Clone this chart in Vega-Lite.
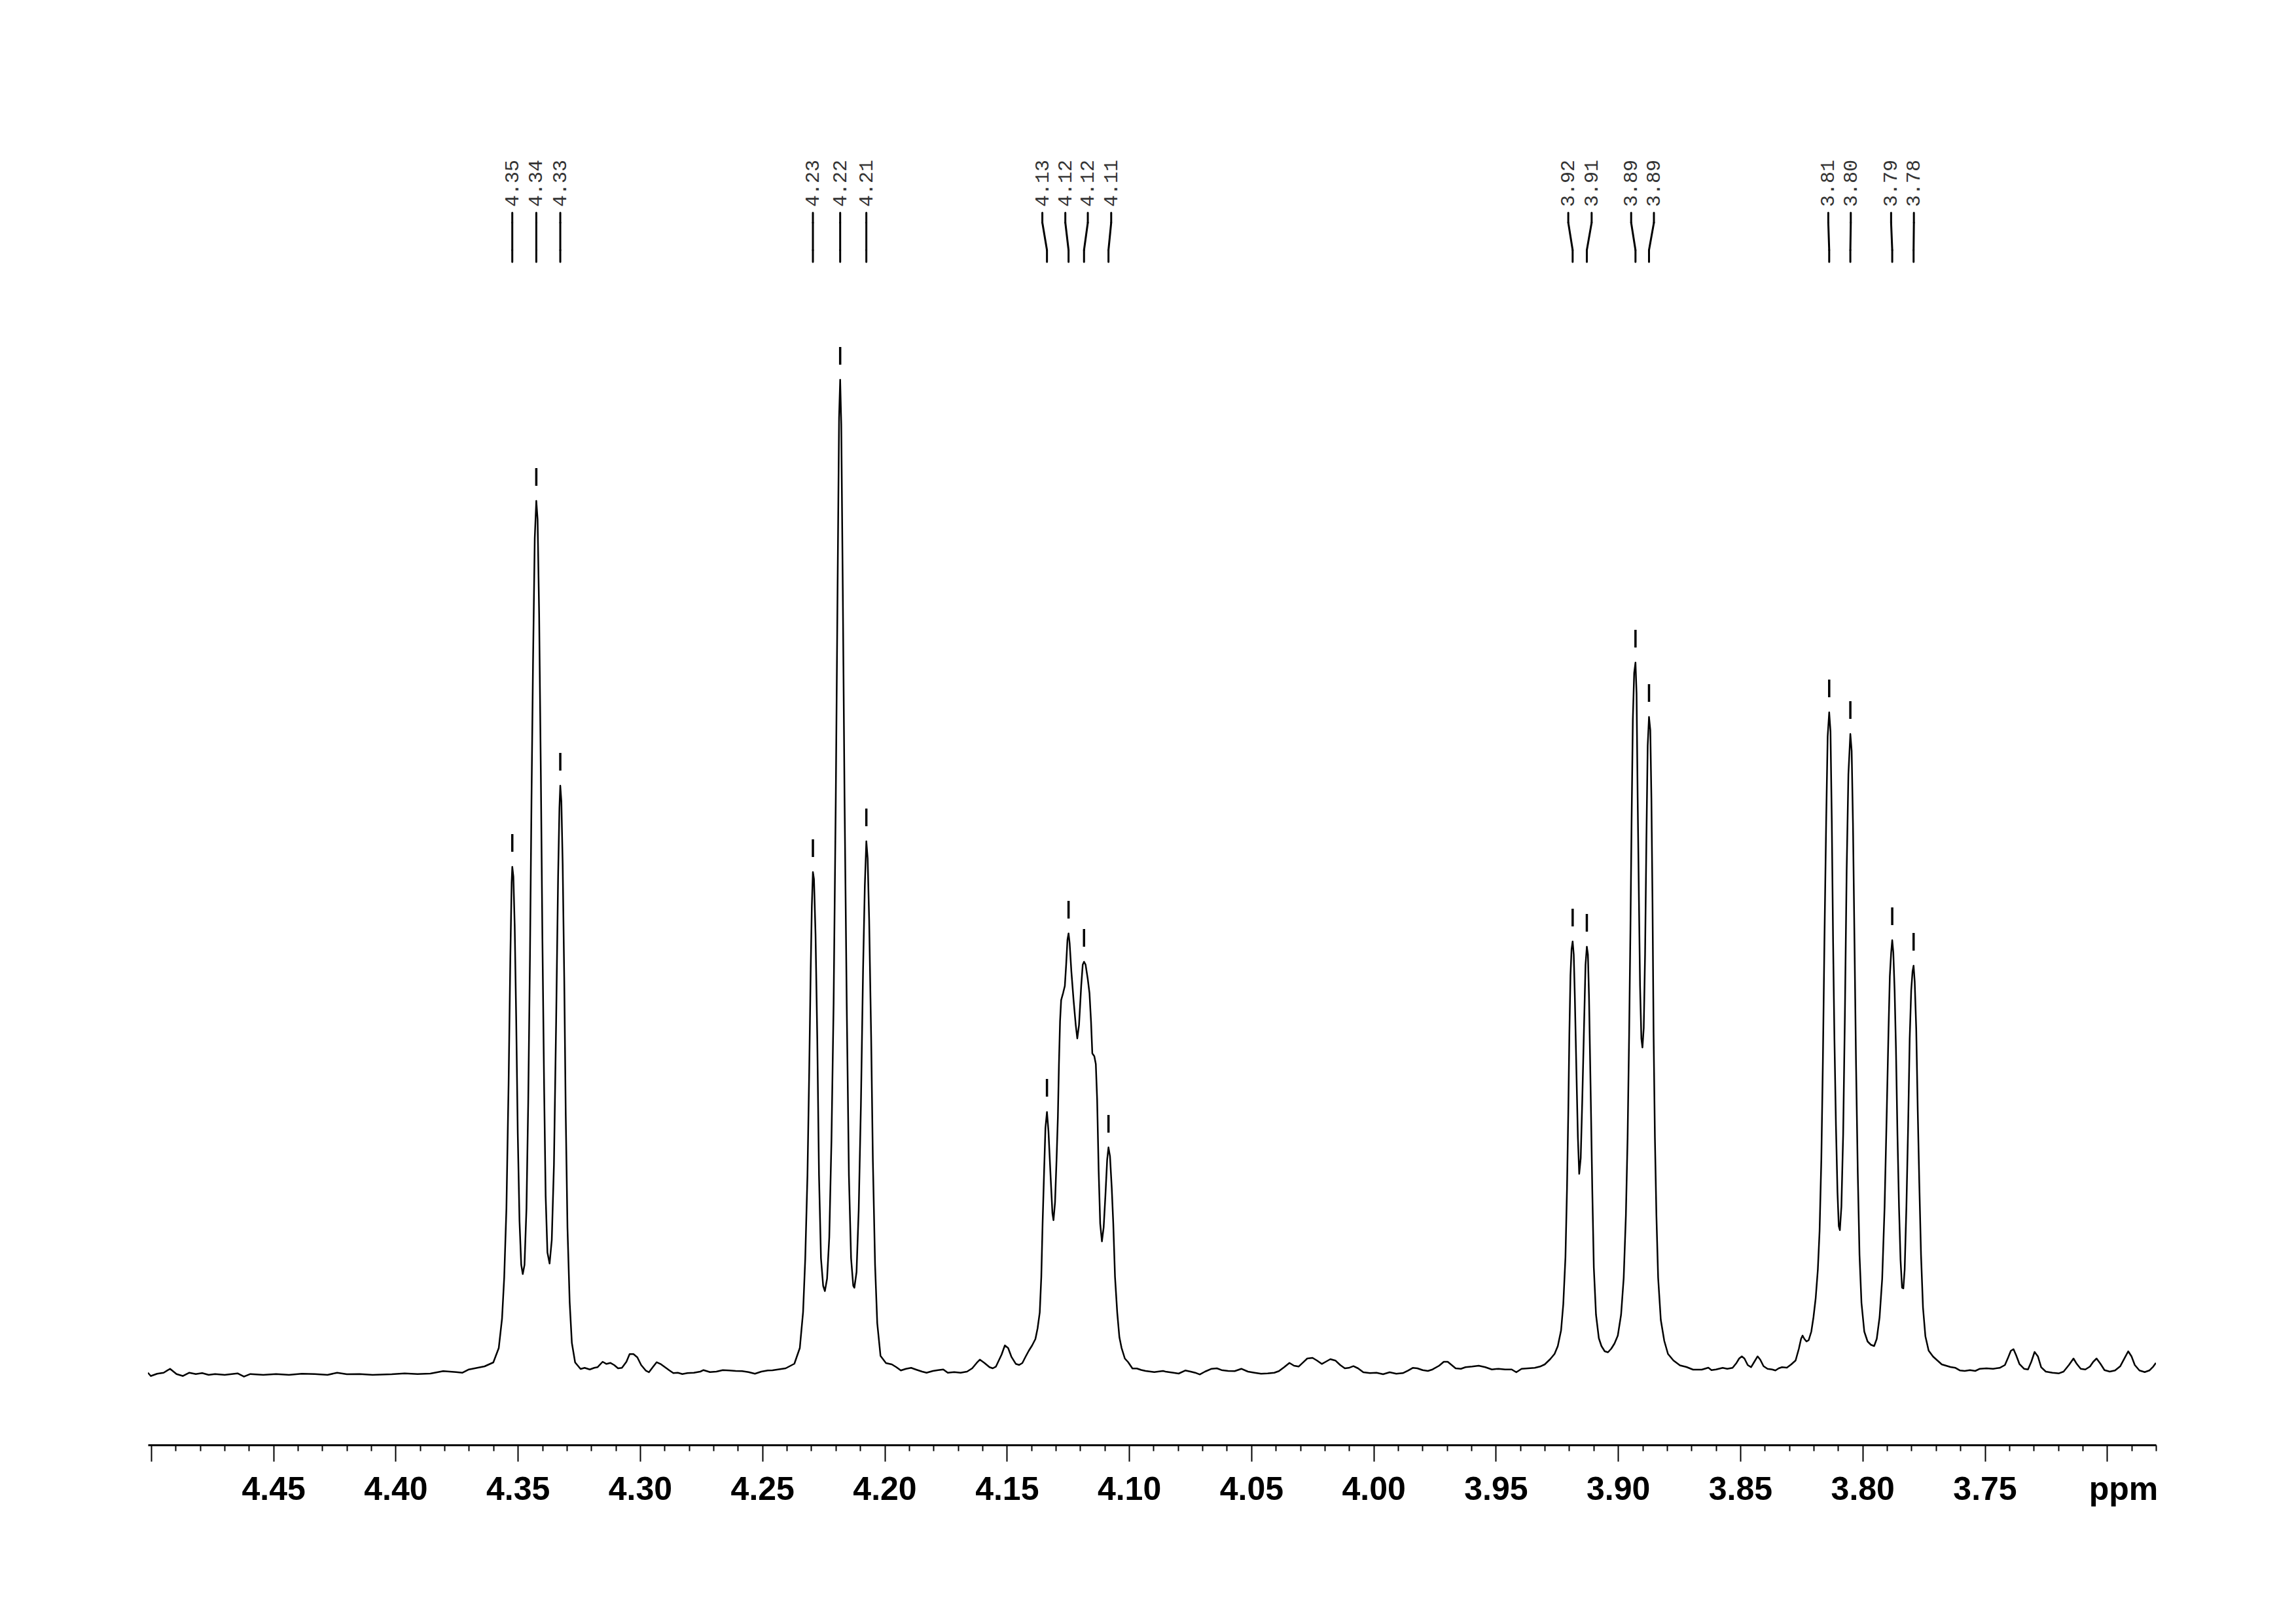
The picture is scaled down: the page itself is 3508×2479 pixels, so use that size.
{
  "$schema": "https://vega.github.io/schema/vega-lite/v6.json",
  "width": 3068,
  "height": 2007,
  "autosize": {"type": "none"},
  "padding": {"left": 226, "top": 200, "right": 214, "bottom": 272},
  "background": "white",
  "config": {"view": {"stroke": null}, "axis": {"grid": false}},
  "resolve": {"axis": {"x": "independent"}},
  "datasets": {
    "spectrum": [
      {"ppm":4.5013,"intensity":2.3},{"ppm":4.50013,"intensity":-2.7},{"ppm":4.4975,"intensity":0.7},{"ppm":4.49487,"intensity":2.3},{"ppm":4.49224,"intensity":8.3},{"ppm":4.48961,"intensity":0.3},{"ppm":4.48698,"intensity":-2.7},{"ppm":4.48435,"intensity":2.3},{"ppm":4.48172,"intensity":0.3},{"ppm":4.4791,"intensity":1.7},{"ppm":4.47647,"intensity":-1},{"ppm":4.47384,"intensity":0.3},{"ppm":4.46989,"intensity":-1},{"ppm":4.46464,"intensity":1.3},{"ppm":4.46201,"intensity":-3.7},{"ppm":4.45938,"intensity":0.3},{"ppm":4.45412,"intensity":-1},{"ppm":4.44888,"intensity":0.3},{"ppm":4.44361,"intensity":-1},{"ppm":4.43835,"intensity":0.7},{"ppm":4.43309,"intensity":0.3},{"ppm":4.42784,"intensity":-1},{"ppm":4.42389,"intensity":2.3},{"ppm":4.41995,"intensity":0},{"ppm":4.41469,"intensity":0.3},{"ppm":4.40943,"intensity":-1},{"ppm":4.40155,"intensity":0},{"ppm":4.39629,"intensity":1.3},{"ppm":4.39103,"intensity":0.3},{"ppm":4.38577,"intensity":1},{"ppm":4.38052,"intensity":4.7},{"ppm":4.37526,"intensity":3.3},{"ppm":4.37263,"intensity":2.3},{"ppm":4.37,"intensity":7.3},
      {"ppm":4.36895,"intensity":8},{"ppm":4.3636,"intensity":12},{"ppm":4.36003,"intensity":18},{"ppm":4.3578,"intensity":40},{"ppm":4.35646,"intensity":85},{"ppm":4.35557,"intensity":148},{"ppm":4.35467,"intensity":253},{"ppm":4.35378,"intensity":444},{"ppm":4.35307,"intensity":636},{"ppm":4.35253,"intensity":751},{"ppm":4.35227,"intensity":775},{"ppm":4.35182,"intensity":760},{"ppm":4.35128,"intensity":684},{"ppm":4.35066,"intensity":540},{"ppm":4.35003,"intensity":368},{"ppm":4.34932,"intensity":234},{"ppm":4.34861,"intensity":167},{"ppm":4.34798,"intensity":153},{"ppm":4.34727,"intensity":167},{"ppm":4.34647,"intensity":253},{"ppm":4.34575,"intensity":416},{"ppm":4.34504,"intensity":636},{"ppm":4.34442,"intensity":875},{"ppm":4.34379,"intensity":1086},{"ppm":4.34308,"intensity":1277},{"ppm":4.34245,"intensity":1334},{"ppm":4.34192,"intensity":1306},{"ppm":4.34129,"intensity":1162},{"ppm":4.34058,"intensity":913},{"ppm":4.33995,"intensity":665},{"ppm":4.33924,"intensity":435},{"ppm":4.33862,"intensity":272},{"ppm":4.3379,"intensity":186},{"ppm":4.33701,"intensity":169},{"ppm":4.33612,"intensity":205},{"ppm":4.33523,"intensity":320},{"ppm":4.33433,"intensity":540},{"ppm":4.33353,"intensity":760},{"ppm":4.33299,"intensity":865},{"ppm":4.33264,"intensity":899},{"ppm":4.33219,"intensity":875},{"ppm":4.33166,"intensity":779},{"ppm":4.33103,"intensity":607},{"ppm":4.33041,"intensity":397},{"ppm":4.3297,"intensity":224},{"ppm":4.3288,"intensity":110},{"ppm":4.32791,"intensity":48},{"ppm":4.32657,"intensity":18},{"ppm":4.32434,"intensity":8},
      {"ppm":4.32268,"intensity":9.7},{"ppm":4.32058,"intensity":7.3},{"ppm":4.31874,"intensity":9.7},{"ppm":4.31742,"intensity":10.7},{"ppm":4.31532,"intensity":19},{"ppm":4.31374,"intensity":15.7},{"ppm":4.31217,"intensity":17.3},{"ppm":4.31059,"intensity":14},{"ppm":4.30901,"intensity":9},{"ppm":4.30743,"intensity":9.7},{"ppm":4.30559,"intensity":19},{"ppm":4.30428,"intensity":30.7},{"ppm":4.3027,"intensity":30.7},{"ppm":4.30112,"intensity":25.7},{"ppm":4.29955,"intensity":14},{"ppm":4.29771,"intensity":5.7},{"ppm":4.29639,"intensity":3},{"ppm":4.29481,"intensity":10.7},{"ppm":4.29324,"intensity":18.3},{"ppm":4.29166,"intensity":15.7},{"ppm":4.28982,"intensity":10.7},{"ppm":4.28798,"intensity":5.7},{"ppm":4.2864,"intensity":1.7},{"ppm":4.28456,"intensity":2.3},{"ppm":4.28272,"intensity":0.3},{"ppm":4.28062,"intensity":1.7},{"ppm":4.27799,"intensity":2.3},{"ppm":4.27536,"intensity":4},{"ppm":4.27405,"intensity":6.3},{"ppm":4.27142,"intensity":3.3},{"ppm":4.26879,"intensity":4},{"ppm":4.26616,"intensity":6.3},{"ppm":4.26353,"intensity":5.7},{"ppm":4.26091,"intensity":5},{"ppm":4.25828,"intensity":4.7},{"ppm":4.25565,"intensity":3.3},{"ppm":4.25302,"intensity":0.7},{"ppm":4.25039,"intensity":4},{"ppm":4.24776,"intensity":5.7},
      {"ppm":4.24582,"intensity":6},{"ppm":4.24047,"intensity":9},{"ppm":4.2369,"intensity":16},{"ppm":4.23467,"intensity":40},{"ppm":4.23333,"intensity":95},{"ppm":4.23244,"intensity":177},{"ppm":4.23154,"intensity":304},{"ppm":4.23083,"intensity":462},{"ppm":4.23021,"intensity":619},{"ppm":4.22976,"intensity":714},{"ppm":4.22931,"intensity":767},{"ppm":4.22887,"intensity":756},{"ppm":4.22824,"intensity":672},{"ppm":4.22753,"intensity":514},{"ppm":4.22682,"intensity":304},{"ppm":4.22601,"intensity":177},{"ppm":4.22512,"intensity":135},{"ppm":4.22441,"intensity":127},{"ppm":4.22352,"intensity":146},{"ppm":4.22262,"intensity":209},{"ppm":4.22173,"intensity":356},{"ppm":4.22084,"intensity":567},{"ppm":4.21995,"intensity":882},{"ppm":4.21923,"intensity":1198},{"ppm":4.21861,"intensity":1461},{"ppm":4.21816,"intensity":1519},{"ppm":4.21772,"intensity":1451},{"ppm":4.21709,"intensity":1198},{"ppm":4.21638,"intensity":882},{"ppm":4.21549,"intensity":567},{"ppm":4.21459,"intensity":304},{"ppm":4.2137,"intensity":177},{"ppm":4.21281,"intensity":135},{"ppm":4.21236,"intensity":132},{"ppm":4.21147,"intensity":156},{"ppm":4.21058,"intensity":251},{"ppm":4.20969,"intensity":409},{"ppm":4.20879,"intensity":619},{"ppm":4.20808,"intensity":746},{"ppm":4.20746,"intensity":814},{"ppm":4.20692,"intensity":788},{"ppm":4.2063,"intensity":693},{"ppm":4.20549,"intensity":514},{"ppm":4.20478,"intensity":325},{"ppm":4.20389,"intensity":167},{"ppm":4.203,"intensity":78},{"ppm":4.20166,"intensity":28},{"ppm":4.19943,"intensity":17},{"ppm":4.19702,"intensity":15},{"ppm":4.19518,"intensity":10.7},{"ppm":4.19334,"intensity":5.7},{"ppm":4.19124,"intensity":8.3},{"ppm":4.18913,"intensity":9.7},{"ppm":4.18729,"intensity":7.3},{"ppm":4.18466,"intensity":4},{"ppm":4.18282,"intensity":2.3},{"ppm":4.1802,"intensity":5},{"ppm":4.1781,"intensity":6.3},{"ppm":4.17599,"intensity":7.3},{"ppm":4.17415,"intensity":2.3},{"ppm":4.17153,"intensity":3.3},{"ppm":4.1689,"intensity":2.3},{"ppm":4.16627,"intensity":4},{"ppm":4.16416,"intensity":9},{"ppm":4.16232,"intensity":17.3},{"ppm":4.16101,"intensity":22.3},{"ppm":4.15917,"intensity":17.3},{"ppm":4.15707,"intensity":10.7},{"ppm":4.15575,"intensity":9},{"ppm":4.15444,"intensity":11.7},
      {"ppm":4.15214,"intensity":30},{"ppm":4.1508,"intensity":44},{"ppm":4.14946,"intensity":40},{"ppm":4.14813,"intensity":26.7},{"ppm":4.14634,"intensity":15.8},{"ppm":4.145,"intensity":14.2},{"ppm":4.14366,"intensity":17},{"ppm":4.14233,"intensity":26.7},{"ppm":4.14099,"intensity":36},{"ppm":4.13965,"intensity":44},{"ppm":4.13831,"intensity":53.8},{"ppm":4.13742,"intensity":70},{"ppm":4.13653,"intensity":94.4},{"ppm":4.1359,"intensity":148.6},{"ppm":4.13537,"intensity":230},{"ppm":4.13474,"intensity":311},{"ppm":4.13421,"intensity":376},{"ppm":4.13358,"intensity":400.6},{"ppm":4.13296,"intensity":370.8},{"ppm":4.13207,"intensity":300.4},{"ppm":4.13135,"intensity":246},{"ppm":4.13091,"intensity":235.3},{"ppm":4.13028,"intensity":262.4},{"ppm":4.12966,"intensity":327.5},{"ppm":4.12912,"intensity":392.5},{"ppm":4.12868,"intensity":473.8},{"ppm":4.12823,"intensity":539},{"ppm":4.12778,"intensity":571.4},{"ppm":4.12698,"intensity":582.2},{"ppm":4.12627,"intensity":593},{"ppm":4.12573,"intensity":625.6},{"ppm":4.1252,"intensity":663.5},{"ppm":4.12475,"intensity":673.3},{"ppm":4.1243,"intensity":658},{"ppm":4.12359,"intensity":614.7},{"ppm":4.1227,"intensity":571.4},{"ppm":4.12181,"intensity":533.4},{"ppm":4.12118,"intensity":512.8},{"ppm":4.12047,"intensity":533.4},{"ppm":4.11958,"intensity":593},{"ppm":4.11895,"intensity":625.6},{"ppm":4.11842,"intensity":630},{"ppm":4.11779,"intensity":625.6},{"ppm":4.1169,"intensity":603.9},{"ppm":4.11619,"intensity":582.2},{"ppm":4.11556,"intensity":539},{"ppm":4.11503,"intensity":490},{"ppm":4.11422,"intensity":485.7},{"ppm":4.1136,"intensity":473.8},{"ppm":4.11306,"intensity":419.6},{"ppm":4.11244,"intensity":311},{"ppm":4.11181,"intensity":230},{"ppm":4.1111,"intensity":202.8},{"ppm":4.11039,"intensity":224.5},{"ppm":4.10967,"intensity":273.3},{"ppm":4.10896,"intensity":327.5},{"ppm":4.10842,"intensity":346.4},{"ppm":4.1078,"intensity":332.9},{"ppm":4.10708,"intensity":284.1},{"ppm":4.10646,"intensity":230},{"ppm":4.10575,"intensity":148.6},{"ppm":4.10485,"intensity":94.4},{"ppm":4.10396,"intensity":56.5},{"ppm":4.10307,"intensity":40.2},{"ppm":4.10173,"intensity":24},{"ppm":4.10039,"intensity":18.5},{"ppm":4.09861,"intensity":8.8},{"ppm":4.09682,"intensity":8.8},{"ppm":4.09504,"intensity":6.5},{"ppm":4.09325,"intensity":5},{"ppm":4.08969,"intensity":3.3},{"ppm":4.08612,"intensity":5},
      {"ppm":4.08511,"intensity":4},{"ppm":4.08376,"intensity":3.3},{"ppm":4.08187,"intensity":2.3},{"ppm":4.07971,"intensity":1},{"ppm":4.07702,"intensity":5.7},{"ppm":4.07486,"intensity":4},{"ppm":4.07297,"intensity":2.3},{"ppm":4.07108,"intensity":-0.3},{"ppm":4.06893,"intensity":4},{"ppm":4.06623,"intensity":8.3},{"ppm":4.06407,"intensity":9},{"ppm":4.06218,"intensity":6.3},{"ppm":4.05948,"intensity":5},{"ppm":4.05679,"intensity":4.7},{"ppm":4.05409,"intensity":8.3},{"ppm":4.05139,"intensity":4},{"ppm":4.0487,"intensity":2.3},{"ppm":4.046,"intensity":0.7},{"ppm":4.0433,"intensity":1.3},{"ppm":4.04061,"intensity":2.3},{"ppm":4.03872,"intensity":4.7},{"ppm":4.03656,"intensity":10.7},{"ppm":4.03441,"intensity":17.3},{"ppm":4.03253,"intensity":13},{"ppm":4.03065,"intensity":11.7},{"ppm":4.02901,"intensity":17.3},{"ppm":4.02712,"intensity":24},{"ppm":4.02496,"intensity":25},{"ppm":4.02308,"intensity":20.7},{"ppm":4.02118,"intensity":15.7},{"ppm":4.01957,"intensity":19},{"ppm":4.01768,"intensity":23},{"ppm":4.01552,"intensity":20.7},{"ppm":4.01363,"intensity":14},{"ppm":4.01175,"intensity":9},{"ppm":4.01013,"intensity":9.7},{"ppm":4.00824,"intensity":12.3},{"ppm":4.00635,"intensity":9},{"ppm":4.00419,"intensity":3},{"ppm":4.0015,"intensity":1.7},{"ppm":3.9988,"intensity":2.3},{"ppm":3.9961,"intensity":0},{"ppm":3.99341,"intensity":3},{"ppm":3.99071,"intensity":0.7},{"ppm":3.98801,"intensity":1.7},{"ppm":3.98585,"intensity":5.7},{"ppm":3.98397,"intensity":9.7},{"ppm":3.98208,"intensity":9},{"ppm":3.97992,"intensity":6.3},{"ppm":3.97777,"intensity":5},{"ppm":3.97587,"intensity":7.3},{"ppm":3.97318,"intensity":13},{"ppm":3.97129,"intensity":19},{"ppm":3.96967,"intensity":19},{"ppm":3.96805,"intensity":14},{"ppm":3.96644,"intensity":9},{"ppm":3.96428,"intensity":8.3},{"ppm":3.96239,"intensity":10.7},{"ppm":3.95969,"intensity":11.7},{"ppm":3.957,"intensity":13},{"ppm":3.9543,"intensity":10.7},{"ppm":3.9516,"intensity":7.3},{"ppm":3.9489,"intensity":8.3},{"ppm":3.94621,"intensity":7.3},{"ppm":3.94351,"intensity":7.3},{"ppm":3.94162,"intensity":3},{"ppm":3.93946,"intensity":8.3},{"ppm":3.93677,"intensity":9},{"ppm":3.93407,"intensity":9.7},{"ppm":3.93191,"intensity":11.7},
      {"ppm":3.92999,"intensity":15},{"ppm":3.92776,"intensity":23},{"ppm":3.92597,"intensity":31},{"ppm":3.92464,"intensity":43},{"ppm":3.9233,"intensity":67},{"ppm":3.9224,"intensity":107},{"ppm":3.92151,"intensity":179},{"ppm":3.92089,"intensity":282},{"ppm":3.92035,"intensity":402},{"ppm":3.91991,"intensity":521},{"ppm":3.91946,"intensity":609},{"ppm":3.91902,"intensity":649},{"ppm":3.91857,"intensity":661},{"ppm":3.91812,"intensity":641},{"ppm":3.91768,"intensity":577},{"ppm":3.91705,"intensity":466},{"ppm":3.91643,"intensity":362},{"ppm":3.91589,"intensity":306},{"ppm":3.91527,"intensity":330},{"ppm":3.91464,"intensity":418},{"ppm":3.91393,"intensity":529},{"ppm":3.91331,"intensity":625},{"ppm":3.91277,"intensity":653},{"ppm":3.91232,"intensity":641},{"ppm":3.91188,"intensity":577},{"ppm":3.91125,"intensity":442},{"ppm":3.91054,"intensity":282},{"ppm":3.90991,"intensity":163},{"ppm":3.90902,"intensity":91},{"ppm":3.90786,"intensity":55},{"ppm":3.90679,"intensity":43},{"ppm":3.90545,"intensity":35},{"ppm":3.90412,"intensity":33.5},{"ppm":3.90278,"intensity":39},{"ppm":3.90144,"intensity":47},{"ppm":3.9001,"intensity":59},{"ppm":3.89876,"intensity":91},{"ppm":3.89769,"intensity":147},{"ppm":3.8968,"intensity":242},{"ppm":3.89609,"intensity":362},{"ppm":3.89546,"intensity":521},{"ppm":3.89493,"intensity":681},{"ppm":3.89448,"intensity":840},{"ppm":3.89395,"intensity":1000},{"ppm":3.89341,"intensity":1071},{"ppm":3.89287,"intensity":1087},{"ppm":3.89243,"intensity":1040},{"ppm":3.89198,"intensity":880},{"ppm":3.89145,"intensity":721},{"ppm":3.891,"intensity":593},{"ppm":3.89047,"intensity":513},{"ppm":3.89002,"intensity":499},{"ppm":3.88949,"intensity":529},{"ppm":3.88895,"intensity":641},{"ppm":3.88841,"intensity":816},{"ppm":3.88788,"intensity":960},{"ppm":3.88734,"intensity":1004},{"ppm":3.88681,"intensity":984},{"ppm":3.88636,"intensity":880},{"ppm":3.88591,"intensity":721},{"ppm":3.88547,"intensity":521},{"ppm":3.88493,"intensity":362},{"ppm":3.88431,"intensity":242},{"ppm":3.8836,"intensity":147},{"ppm":3.88252,"intensity":83},{"ppm":3.8811,"intensity":51},{"ppm":3.87958,"intensity":31},{"ppm":3.87735,"intensity":21},{"ppm":3.87467,"intensity":13.5},{"ppm":3.872,"intensity":11},{"ppm":3.86932,"intensity":7},{"ppm":3.86575,"intensity":7},{"ppm":3.86307,"intensity":10},
      {"ppm":3.86179,"intensity":6.3},{"ppm":3.8599,"intensity":7.3},{"ppm":3.8572,"intensity":9.7},{"ppm":3.85532,"intensity":8.3},{"ppm":3.85316,"intensity":9.7},{"ppm":3.85154,"intensity":17.3},{"ppm":3.85046,"intensity":24},{"ppm":3.84938,"intensity":27.3},{"ppm":3.84831,"intensity":24},{"ppm":3.84696,"intensity":14},{"ppm":3.84561,"intensity":10.7},{"ppm":3.84426,"intensity":19},{"ppm":3.84291,"intensity":27.3},{"ppm":3.84184,"intensity":22.3},{"ppm":3.84049,"intensity":12.3},{"ppm":3.83887,"intensity":8.3},{"ppm":3.83698,"intensity":7.3},{"ppm":3.83564,"intensity":5.7},{"ppm":3.83429,"intensity":9},{"ppm":3.83294,"intensity":10.7},
      {"ppm":3.83095,"intensity":10},{"ppm":3.82917,"intensity":15},{"ppm":3.82738,"intensity":21},{"ppm":3.82604,"intensity":39},{"ppm":3.82515,"intensity":54},{"ppm":3.82453,"intensity":59},{"ppm":3.82381,"intensity":54},{"ppm":3.82292,"intensity":50},{"ppm":3.82203,"intensity":52},{"ppm":3.82096,"intensity":65},{"ppm":3.82007,"intensity":87},{"ppm":3.81917,"intensity":116},{"ppm":3.81828,"intensity":160},{"ppm":3.81757,"intensity":219},{"ppm":3.81685,"intensity":329},{"ppm":3.81623,"intensity":476},{"ppm":3.8156,"intensity":659},{"ppm":3.81489,"intensity":842},{"ppm":3.81427,"intensity":974},{"ppm":3.81364,"intensity":1011},{"ppm":3.81311,"intensity":982},{"ppm":3.81257,"intensity":842},{"ppm":3.81204,"intensity":659},{"ppm":3.8115,"intensity":512},{"ppm":3.81088,"intensity":380},{"ppm":3.81025,"intensity":278},{"ppm":3.80972,"intensity":226},{"ppm":3.80927,"intensity":220},{"ppm":3.80865,"intensity":256},{"ppm":3.80793,"intensity":366},{"ppm":3.80722,"intensity":549},{"ppm":3.8065,"intensity":769},{"ppm":3.80579,"intensity":916},{"ppm":3.80499,"intensity":978},{"ppm":3.80445,"intensity":952},{"ppm":3.80392,"intensity":842},{"ppm":3.80329,"intensity":659},{"ppm":3.80267,"intensity":476},{"ppm":3.80195,"intensity":307},{"ppm":3.80124,"intensity":182},{"ppm":3.80044,"intensity":109},{"ppm":3.79928,"intensity":65},{"ppm":3.79794,"intensity":50},{"ppm":3.7966,"intensity":45},{"ppm":3.79526,"intensity":43},{"ppm":3.79419,"intensity":54},{"ppm":3.79303,"intensity":87},{"ppm":3.79196,"intensity":146},{"ppm":3.79098,"intensity":256},{"ppm":3.79009,"intensity":402},{"ppm":3.78937,"intensity":527},{"ppm":3.78884,"intensity":608},{"ppm":3.7883,"intensity":644},{"ppm":3.78786,"intensity":663},{"ppm":3.78741,"intensity":644},{"ppm":3.78688,"intensity":586},{"ppm":3.78634,"intensity":498},{"ppm":3.78572,"intensity":366},{"ppm":3.78509,"intensity":256},{"ppm":3.78447,"intensity":175},{"ppm":3.78384,"intensity":132},{"ppm":3.78331,"intensity":131},{"ppm":3.78277,"intensity":160},{"ppm":3.78206,"intensity":256},{"ppm":3.78135,"intensity":380},{"ppm":3.78072,"intensity":512},{"ppm":3.7801,"intensity":586},{"ppm":3.77956,"intensity":615},{"ppm":3.77912,"intensity":624},{"ppm":3.77867,"intensity":600},{"ppm":3.77804,"intensity":527},{"ppm":3.77742,"intensity":402},{"ppm":3.77679,"intensity":292},{"ppm":3.77608,"intensity":182},{"ppm":3.77528,"intensity":102},{"ppm":3.7743,"intensity":58},{"ppm":3.77296,"intensity":36},{"ppm":3.77117,"intensity":27},{"ppm":3.76939,"intensity":21},{"ppm":3.7676,"intensity":15},{"ppm":3.76582,"intensity":13},{"ppm":3.76403,"intensity":11},
      {"ppm":3.76199,"intensity":9.7},{"ppm":3.76011,"intensity":5.7},{"ppm":3.75822,"intensity":5},{"ppm":3.75606,"intensity":6.3},{"ppm":3.7539,"intensity":5},{"ppm":3.75201,"intensity":8.3},{"ppm":3.74932,"intensity":9},{"ppm":3.74662,"intensity":8.3},{"ppm":3.74392,"intensity":9.7},{"ppm":3.74177,"intensity":14},{"ppm":3.74042,"intensity":25.7},{"ppm":3.73934,"intensity":35.7},{"ppm":3.73826,"intensity":38.3},{"ppm":3.73718,"intensity":29},{"ppm":3.73584,"intensity":15.7},{"ppm":3.73395,"intensity":8.3},{"ppm":3.73233,"intensity":7.3},{"ppm":3.73098,"intensity":19},{"ppm":3.72963,"intensity":34},{"ppm":3.72828,"intensity":27.3},{"ppm":3.72694,"intensity":10.7},{"ppm":3.72505,"intensity":4},{"ppm":3.72235,"intensity":2.3},{"ppm":3.71965,"intensity":1.3},{"ppm":3.71777,"intensity":4},{"ppm":3.71561,"intensity":14},{"ppm":3.71372,"intensity":24},{"ppm":3.71237,"intensity":15.7},{"ppm":3.71075,"intensity":8.3},{"ppm":3.70887,"intensity":7.3},{"ppm":3.70698,"intensity":11.7},{"ppm":3.70563,"intensity":19},{"ppm":3.70428,"intensity":24},{"ppm":3.70266,"intensity":15.7},{"ppm":3.70104,"intensity":6.3},{"ppm":3.69889,"intensity":4},{"ppm":3.69673,"intensity":5.7},{"ppm":3.69457,"intensity":12.3},{"ppm":3.69268,"intensity":25.7},{"ppm":3.69134,"intensity":35},{"ppm":3.68999,"intensity":27.3},{"ppm":3.68864,"intensity":14},{"ppm":3.68675,"intensity":5.7},{"ppm":3.68459,"intensity":3.3},{"ppm":3.6827,"intensity":5.7},{"ppm":3.68109,"intensity":11.7},{"ppm":3.68001,"intensity":17.3}
    ],
    "peaks": [
      {"label":"4.35","ppm":4.35227,"labelPpm":4.35227,"height":775},
      {"label":"4.34","ppm":4.34245,"labelPpm":4.34245,"height":1334},
      {"label":"4.33","ppm":4.33264,"labelPpm":4.33264,"height":899},
      {"label":"4.23","ppm":4.22931,"labelPpm":4.22931,"height":767},
      {"label":"4.22","ppm":4.21816,"labelPpm":4.21816,"height":1519},
      {"label":"4.21","ppm":4.20746,"labelPpm":4.20746,"height":814},
      {"label":"4.13","ppm":4.13358,"labelPpm":4.13547,"height":401},
      {"label":"4.12","ppm":4.12475,"labelPpm":4.12607,"height":673},
      {"label":"4.12","ppm":4.11842,"labelPpm":4.11687,"height":630},
      {"label":"4.11","ppm":4.10842,"labelPpm":4.10731,"height":346},
      {"label":"3.92","ppm":3.91857,"labelPpm":3.92036,"height":661},
      {"label":"3.91","ppm":3.91277,"labelPpm":3.9108,"height":653},
      {"label":"3.89","ppm":3.89287,"labelPpm":3.89464,"height":1087},
      {"label":"3.89","ppm":3.88734,"labelPpm":3.88533,"height":1004},
      {"label":"3.81","ppm":3.81364,"labelPpm":3.81401,"height":1011},
      {"label":"3.80","ppm":3.80499,"labelPpm":3.80481,"height":978},
      {"label":"3.79","ppm":3.78786,"labelPpm":3.78832,"height":663},
      {"label":"3.78","ppm":3.77912,"labelPpm":3.779,"height":624}
    ]
  },
  "layer": [
    {
      "data": {"name": "spectrum"},
      "mark": {"type": "line", "color": "black", "strokeWidth": 2.5, "clip": true, "strokeJoin": "round"},
      "encoding": {
        "x": {
          "field": "ppm", "type": "quantitative",
          "scale": {"domain": [3.68, 4.5013], "reverse": true, "nice": false, "zero": false},
          "axis": {
            "orient": "bottom",
            "values": [4.5,4.45,4.4,4.35,4.3,4.25,4.2,4.15,4.1,4.05,4,3.95,3.9,3.85,3.8,3.75,3.7],
            "labelExpr": "datum.value < 4.49 && datum.value > 3.71 ? format(datum.value, '.2f') : ''",
            "tickSize": 25,
            "tickWidth": 2,
            "tickColor": "black",
            "domainColor": "black",
            "domainWidth": 3,
            "labelFont": "Liberation Sans",
            "labelFontSize": 50,
            "labelFontWeight": "bold",
            "labelColor": "black",
            "labelBaseline": "alphabetic",
            "labelPadding": 58,
            "labelOverlap": false,
            "labelFlush": false,
            "title": "ppm",
            "titleFont": "Liberation Sans",
            "titleFontSize": 50,
            "titleFontWeight": "bold",
            "titleColor": "black",
            "titleX": 3018,
            "titleY": 83,
            "titleAlign": "center",
            "titleBaseline": "alphabetic"
          }
        },
        "y": {"field": "intensity", "type": "quantitative", "scale": {"domain": [-108, 1899], "nice": false, "zero": false}, "axis": null}
      }
    },
    {
      "data": {"name": "peaks"},
      "mark": {"type": "rule", "color": "black", "strokeWidth": 3.5, "yOffset": -23, "y2Offset": -50},
      "encoding": {
        "x": {
          "field": "ppm", "type": "quantitative",
          "scale": {"domain": [3.68, 4.5013], "reverse": true, "nice": false, "zero": false},
          "axis": {
            "orient": "bottom",
            "values": [4.49,4.48,4.47,4.46,4.44,4.43,4.42,4.41,4.39,4.38,4.37,4.36,4.34,4.33,4.32,4.31,4.29,4.28,4.27,4.26,4.24,4.23,4.22,4.21,4.19,4.18,4.17,4.16,4.14,4.13,4.12,4.11,4.09,4.08,4.07,4.06,4.04,4.03,4.02,4.01,3.99,3.98,3.97,3.96,3.94,3.93,3.92,3.91,3.89,3.88,3.87,3.86,3.84,3.83,3.82,3.81,3.79,3.78,3.77,3.76,3.74,3.73,3.72,3.71,3.69,3.68],
            "labels": false,
            "domain": false,
            "tickSize": 9,
            "tickWidth": 2,
            "tickColor": "black",
            "title": null
          }
        },
        "y": {"field": "height", "type": "quantitative", "scale": {"domain": [-108, 1899], "nice": false, "zero": false}, "axis": null},
        "y2": {"field": "height"}
      }
    },
    {
      "data": {"name": "peaks"},
      "mark": {"type": "rule", "color": "black", "strokeWidth": 3, "strokeCap": "round"},
      "encoding": {
        "x": {"field": "labelPpm", "type": "quantitative", "scale": {"domain": [3.68, 4.5013], "reverse": true, "nice": false, "zero": false}, "axis": null},
        "y": {"datum": 1774, "type": "quantitative", "scale": {"domain": [-108, 1899], "nice": false, "zero": false}, "axis": null},
        "y2": {"datum": 1759}
      }
    },
    {
      "data": {"name": "peaks"},
      "mark": {"type": "rule", "color": "black", "strokeWidth": 3, "strokeCap": "round"},
      "encoding": {
        "x": {"field": "labelPpm", "type": "quantitative", "scale": {"domain": [3.68, 4.5013], "reverse": true, "nice": false, "zero": false}, "axis": null},
        "x2": {"field": "ppm"},
        "y": {"datum": 1759, "type": "quantitative", "scale": {"domain": [-108, 1899], "nice": false, "zero": false}, "axis": null},
        "y2": {"datum": 1717}
      }
    },
    {
      "data": {"name": "peaks"},
      "mark": {"type": "rule", "color": "black", "strokeWidth": 3, "strokeCap": "round"},
      "encoding": {
        "x": {"field": "ppm", "type": "quantitative", "scale": {"domain": [3.68, 4.5013], "reverse": true, "nice": false, "zero": false}, "axis": null},
        "y": {"datum": 1717, "type": "quantitative", "scale": {"domain": [-108, 1899], "nice": false, "zero": false}, "axis": null},
        "y2": {"datum": 1699}
      }
    },
    {
      "data": {"name": "peaks"},
      "mark": {"type": "text", "angle": 270, "align": "left", "baseline": "middle", "font": "Liberation Mono", "fontSize": 30, "color": "#333333"},
      "encoding": {
        "x": {"field": "labelPpm", "type": "quantitative", "scale": {"domain": [3.68, 4.5013], "reverse": true, "nice": false, "zero": false}, "axis": null},
        "y": {"datum": 1783, "type": "quantitative", "scale": {"domain": [-108, 1899], "nice": false, "zero": false}, "axis": null},
        "text": {"field": "label"}
      }
    }
  ]
}
